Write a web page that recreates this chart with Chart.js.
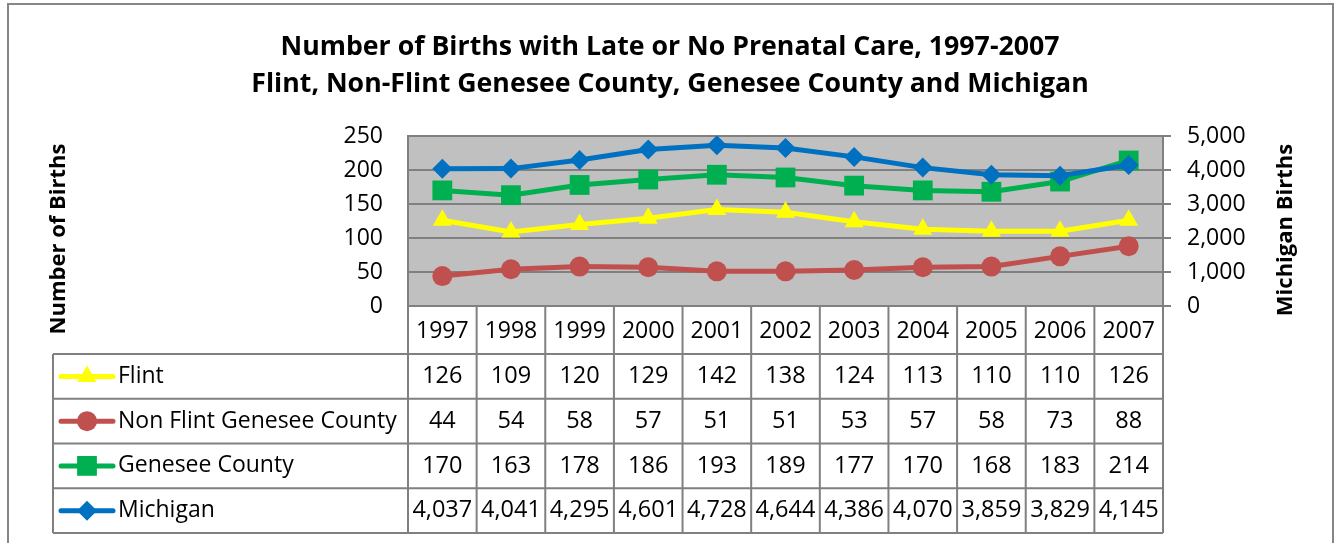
<!DOCTYPE html>
<html>
<head>
<meta charset="utf-8">
<title>Births with Late or No Prenatal Care</title>
<script src="https://cdn.jsdelivr.net/npm/chart.js@4.4.1/dist/chart.umd.min.js"></script>
<style>
  body { margin: 0; background: #fff; }
</style>
</head>
<body>
<canvas id="birthsChart" width="1340" height="543"></canvas>
<script>
var years = ['1997', '1998', '1999', '2000', '2001', '2002', '2003', '2004', '2005', '2006', '2007'];
var flint = [126, 109, 120, 129, 142, 138, 124, 113, 110, 110, 126];
var nonFlint = [44, 54, 58, 57, 51, 51, 53, 57, 58, 73, 88];
var genesee = [170, 163, 178, 186, 193, 189, 177, 170, 168, 183, 214];
var michigan = [4037, 4041, 4295, 4601, 4728, 4644, 4386, 4070, 3859, 3829, 4145];
var seriesNames = ['Flint', 'Non Flint Genesee County', 'Genesee County', 'Michigan'];
var titleLines = ['Number of Births with Late or No Prenatal Care, 1997-2007',
                  'Flint, Non-Flint Genesee County, Genesee County and Michigan'];

var FONT = "'Open Sans', sans-serif";
var GRID = '#808080';

function fmt(v) { return Number(v).toLocaleString('en-US'); }

// little marker shapes for the legend column of the table
function marker(ctx, style, r, x, y, color) {
  ctx.save();
  ctx.fillStyle = color;
  ctx.beginPath();
  if (style === 'triangle') {
    ctx.moveTo(x, y - r);
    ctx.lineTo(x + r * 0.866, y + r * 0.5);
    ctx.lineTo(x - r * 0.866, y + r * 0.5);
  } else if (style === 'circle') {
    ctx.arc(x, y, r, 0, Math.PI * 2);
  } else if (style === 'rect') {
    var s = r * Math.SQRT1_2;
    ctx.rect(x - s, y - s, s * 2, s * 2);
  } else {
    ctx.moveTo(x, y - r); ctx.lineTo(x + r, y); ctx.lineTo(x, y + r); ctx.lineTo(x - r, y);
  }
  ctx.closePath();
  ctx.fill();
  ctx.restore();
}

var plotBg = {
  id: 'plotBg',
  beforeDraw: function(chart) {
    var a = chart.chartArea, ctx = chart.ctx;
    ctx.save();
    ctx.fillStyle = '#ffffff';
    ctx.fillRect(0, 0, chart.width, chart.height);
    ctx.strokeStyle = '#868686';
    ctx.lineWidth = 2;
    ctx.strokeRect(8, 4, 1325, 600);
    ctx.fillStyle = '#c0c0c0';
    ctx.fillRect(a.left, a.top, a.right - a.left, a.bottom - a.top);
    ctx.restore();
  }
};

var axisTitles = {
  id: 'axisTitles',
  afterDraw: function(chart) {
    var ctx = chart.ctx;
    ctx.save();
    ctx.fillStyle = '#000';
    ctx.font = 'bold 22px ' + FONT;
    ctx.textAlign = 'center';
    ctx.textBaseline = 'middle';
    ctx.translate(59, 239);
    ctx.rotate(-Math.PI / 2);
    ctx.fillText('Number of Births', 0, 0);
    ctx.restore();
    ctx.save();
    ctx.fillStyle = '#000';
    ctx.font = 'bold 22px ' + FONT;
    ctx.textAlign = 'center';
    ctx.textBaseline = 'middle';
    ctx.translate(1286, 230);
    ctx.rotate(-Math.PI / 2);
    ctx.fillText('Michigan Births', 0, 0);
    ctx.restore();
  }
};

var dataTable = {
  id: 'dataTable',
  afterDraw: function(chart) {
    var ctx = chart.ctx, xs = chart.scales.x, a = chart.chartArea;
    var ds = chart.data.datasets;
    var colW = (a.right - a.left) / years.length;
    var yearBottom = 354;
    var rowH = 44.75;
    var legendLeft = 53;
    var tableBottom = yearBottom + rowH * ds.length;

    ctx.save();
    ctx.strokeStyle = GRID;
    ctx.lineWidth = 2;
    ctx.beginPath();
    // vertical lines of the year row and value columns
    for (var i = 0; i <= years.length; i++) {
      var vx = a.left + i * colW;
      ctx.moveTo(vx, a.bottom);
      ctx.lineTo(vx, tableBottom);
    }
    ctx.moveTo(legendLeft, yearBottom);
    ctx.lineTo(legendLeft, tableBottom);
    for (var r = 0; r <= ds.length; r++) {
      var hy = yearBottom + r * rowH;
      ctx.moveTo(legendLeft, hy);
      ctx.lineTo(a.right, hy);
    }
    ctx.stroke();

    ctx.fillStyle = '#000';
    ctx.font = '23px ' + FONT;
    ctx.textAlign = 'center';
    ctx.textBaseline = 'middle';
    years.forEach(function(y, i) {
      ctx.fillText(y, xs.getPixelForValue(i), (a.bottom + yearBottom) / 2 + 1);
    });

    ds.forEach(function(d, r) {
      var cy = yearBottom + r * rowH + rowH / 2;
      ctx.font = '23.5px ' + FONT;
      d.data.forEach(function(v, i) {
        ctx.fillText(fmt(v), xs.getPixelForValue(i), cy);
      });
      // legend key
      ctx.save();
      ctx.strokeStyle = d.borderColor;
      ctx.lineWidth = 5;
      ctx.lineCap = 'round';
      ctx.beginPath();
      ctx.moveTo(61, cy);
      ctx.lineTo(113, cy);
      ctx.stroke();
      ctx.restore();
      marker(ctx, d.pointStyle, d.pointRadius, 87, cy, d.backgroundColor);
      ctx.font = '23px ' + FONT;
      ctx.textAlign = 'left';
      ctx.fillText(d.label, 118, cy);
      ctx.textAlign = 'center';
    });
    ctx.restore();
  }
};

var chartdata = {
  labels: years,
  datasets: [
    { label: seriesNames[0], data: flint, yAxisID: 'y', order: 4,
      borderColor: '#ffff00', backgroundColor: '#ffff00',
      pointStyle: 'triangle', pointRadius: 11 },
    { label: seriesNames[1], data: nonFlint, yAxisID: 'y', order: 3,
      borderColor: '#c0504d', backgroundColor: '#c0504d',
      pointStyle: 'circle', pointRadius: 10 },
    { label: seriesNames[2], data: genesee, yAxisID: 'y', order: 2,
      borderColor: '#00b050', backgroundColor: '#00b050',
      pointStyle: 'rect', pointRadius: 14 },
    { label: seriesNames[3], data: michigan, yAxisID: 'y1', order: 1,
      borderColor: '#0070c0', backgroundColor: '#0070c0',
      pointStyle: 'rectRot', pointRadius: 10 }
  ]
};
chartdata.datasets.forEach(function(d) {
  d.borderWidth = 5;
  d.pointBorderWidth = 0;
  d.pointHoverRadius = d.pointRadius;
  d.tension = 0;
  d.fill = false;
});

var ctx = document.getElementById('birthsChart');
var lineChart = new Chart(ctx, {
  type: 'line',
  data: chartdata,
  plugins: [plotBg, dataTable, axisTitles],
  options: {
    responsive: false,
    animation: false,
    devicePixelRatio: 1,
    layout: { padding: { top: 0, bottom: 237, left: 0, right: 0 } },
    plugins: {
      legend: { display: false },
      tooltip: { enabled: false },
      title: {
        display: true,
        text: titleLines,
        color: '#000',
        font: { family: FONT, size: 26.7, weight: 'bold', lineHeight: 37 / 26.7 },
        padding: { top: 28.5, bottom: 33.5 }
      }
    },
    scales: {
      x: { display: false, offset: true },
      y: {
        position: 'left',
        min: 0, max: 250,
        afterFit: function(s) { s.width = 408; },
        ticks: { stepSize: 50, padding: 25, color: '#000', font: { family: FONT, size: 23 } },
        grid: { color: GRID, lineWidth: 2, drawTicks: false },
        border: { color: GRID, width: 2 }
      },
      y1: {
        position: 'right',
        min: 0, max: 5000,
        afterFit: function(s) { s.width = 177; },
        ticks: { stepSize: 1000, padding: 16, color: '#000', font: { family: FONT, size: 23 },
                 callback: function(v) { return fmt(v); } },
        grid: { drawOnChartArea: false, color: GRID, lineWidth: 2, tickLength: 8 },
        border: { color: GRID, width: 2 }
      }
    }
  }
});
</script>
</body>
</html>
